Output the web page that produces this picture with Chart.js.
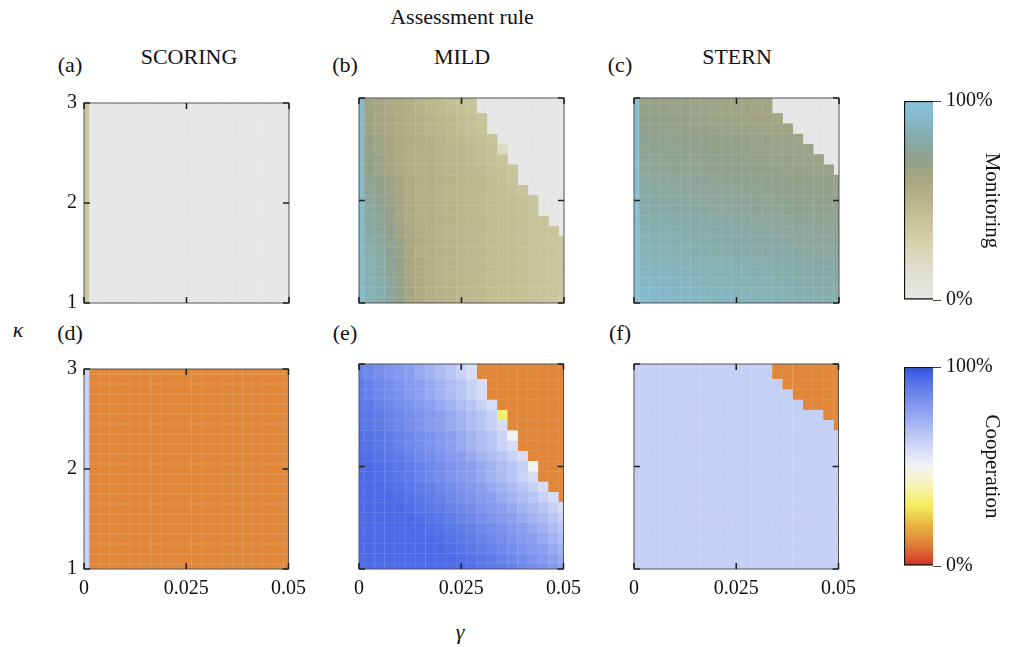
<!DOCTYPE html>
<html>
<head>
<meta charset="utf-8">
<script src="https://cdn.jsdelivr.net/npm/chart.js@4.4.1/dist/chart.umd.min.js"></script>
<style>
  body { margin: 0; background: #fff; }
  #fig { position: relative; width: 1011px; height: 647px; font-family: 'Liberation Serif', 'Times New Roman', serif; color: #111; }
  #fig canvas { position: absolute; }
  .t { position: absolute; transform: translate(-50%, -50%); white-space: nowrap; font-size: 22px; line-height: 1; }
  .it { font-style: italic; }
</style>
</head>
<body>
<div id="fig">
  <div class="t" style="left:462px;top:17px">Assessment rule</div>
  <div class="t" style="left:70px;top:65px">(a)</div>
  <div class="t" style="left:189px;top:57px">SCORING</div>
  <div class="t" style="left:345px;top:65px">(b)</div>
  <div class="t" style="left:462px;top:57px">MILD</div>
  <div class="t" style="left:620px;top:65px">(c)</div>
  <div class="t" style="left:737px;top:57px">STERN</div>
  <div class="t" style="left:70px;top:333px">(d)</div>
  <div class="t" style="left:345px;top:333px">(e)</div>
  <div class="t" style="left:620px;top:333px">(f)</div>
  <div class="t it" style="left:18px;top:330px">κ</div>
  <div class="t it" style="left:460px;top:632px">γ</div>

  <canvas id="pa" width="270" height="254" style="left:44px;top:84px"></canvas>
  <canvas id="pb" width="270" height="254" style="left:319px;top:84px"></canvas>
  <canvas id="pc" width="270" height="254" style="left:594px;top:84px"></canvas>
  <canvas id="pd" width="270" height="254" style="left:44px;top:350px"></canvas>
  <canvas id="pe" width="270" height="254" style="left:319px;top:350px"></canvas>
  <canvas id="pf" width="270" height="254" style="left:594px;top:350px"></canvas>
  <canvas id="cbMon" width="111" height="233" style="left:900px;top:84px"></canvas>
  <canvas id="cbCoop" width="111" height="233" style="left:900px;top:350px"></canvas>
</div>
<script>
// grid of the sweep: gamma along x, kappa along y (rows listed top to bottom)
const gamma = [0, 0.0025, 0.005, 0.0075, 0.01, 0.0125, 0.015, 0.0175, 0.02, 0.0225, 0.025,
               0.0275, 0.03, 0.0325, 0.035, 0.0375, 0.04, 0.0425, 0.045, 0.0475, 0.05];
const kappa = [3, 2.9, 2.8, 2.7, 2.6, 2.5, 2.4, 2.3, 2.2, 2.1, 2, 1.9, 1.8, 1.7, 1.6, 1.5, 1.4, 1.3, 1.2, 1.1, 1];

const xTicks = [0, 0.025, 0.05];
const xTickLabels = ['0', '0.025', '0.05'];
const yTicks = [1, 2, 3];
const yTickLabels = ['1', '2', '3'];
const cbTicks = [0, 100];

// monitoring level (%), one row per kappa value
const scoringMon = [
  [40, 0,0,0,0,0,0,0,0,0,0,0,0,0,0,0,0,0,0,0,0],
  [40, 0,0,0,0,0,0,0,0,0,0,0,0,0,0,0,0,0,0,0,0],
  [40, 0,0,0,0,0,0,0,0,0,0,0,0,0,0,0,0,0,0,0,0],
  [40, 0,0,0,0,0,0,0,0,0,0,0,0,0,0,0,0,0,0,0,0],
  [40, 0,0,0,0,0,0,0,0,0,0,0,0,0,0,0,0,0,0,0,0],
  [40, 0,0,0,0,0,0,0,0,0,0,0,0,0,0,0,0,0,0,0,0],
  [40, 0,0,0,0,0,0,0,0,0,0,0,0,0,0,0,0,0,0,0,0],
  [40, 0,0,0,0,0,0,0,0,0,0,0,0,0,0,0,0,0,0,0,0],
  [40, 0,0,0,0,0,0,0,0,0,0,0,0,0,0,0,0,0,0,0,0],
  [40, 0,0,0,0,0,0,0,0,0,0,0,0,0,0,0,0,0,0,0,0],
  [40, 0,0,0,0,0,0,0,0,0,0,0,0,0,0,0,0,0,0,0,0],
  [40, 0,0,0,0,0,0,0,0,0,0,0,0,0,0,0,0,0,0,0,0],
  [40, 0,0,0,0,0,0,0,0,0,0,0,0,0,0,0,0,0,0,0,0],
  [40, 0,0,0,0,0,0,0,0,0,0,0,0,0,0,0,0,0,0,0,0],
  [40, 0,0,0,0,0,0,0,0,0,0,0,0,0,0,0,0,0,0,0,0],
  [40, 0,0,0,0,0,0,0,0,0,0,0,0,0,0,0,0,0,0,0,0],
  [40, 0,0,0,0,0,0,0,0,0,0,0,0,0,0,0,0,0,0,0,0],
  [40, 0,0,0,0,0,0,0,0,0,0,0,0,0,0,0,0,0,0,0,0],
  [40, 0,0,0,0,0,0,0,0,0,0,0,0,0,0,0,0,0,0,0,0],
  [40, 0,0,0,0,0,0,0,0,0,0,0,0,0,0,0,0,0,0,0,0],
  [40, 0,0,0,0,0,0,0,0,0,0,0,0,0,0,0,0,0,0,0,0]
];

const mildMon = [
  [92, 64,61,58,56,55, 50,48,46,44,42,40, 0,0,0,0,0,0,0,0,0],
  [92, 64,61,58,56,55, 50,48,46,44,42,40, 0,0,0,0,0,0,0,0,0],
  [92, 65,62,59,56,55, 52,50,48,46,44,42,40, 0,0,0,0,0,0,0,0],
  [92, 65,62,59,56,55, 52,50,48,46,44,42,40, 0,0,0,0,0,0,0,0],
  [92, 68,64,60,57,55, 54,52,50,48,46,44,42,40, 0,0,0,0,0,0,0],
  [92, 68,64,60,57,55, 54,53,51,50,48,46,44,42, 20, 0,0,0,0,0,0],
  [92, 70,66,61,57,55, 54,53,51,50,48,46,44,42,40, 0,0,0,0,0,0],
  [92, 70,66,61,57,55, 54,53,51,50,48,47,46,44,42,40, 0,0,0,0,0],
  [92, 74,70,65,60,56, 54,53,51,50,48,47,46,44,42,40, 0,0,0,0,0],
  [92, 74,70,65,60,56, 54,53,51,50,48,47,46,45,44,42,40, 0,0,0,0],
  [92, 76,72,67,61,57, 54,53,51,50,48,47,46,45,44,43,42,40, 0,0,0],
  [92, 78,74,69,62,57, 54,53,51,50,48,47,46,45,44,43,42,40, 0,0,0],
  [92, 78,74,69,62,57, 54,53,51,50,48,47,46,45,44,43,42,41,40, 0,0],
  [92, 80,76,71,64,58, 55,53,51,50,48,47,46,45,44,43,42,41,40,39, 0],
  [92, 82,78,73,66,59, 55,53,51,50,48,47,46,45,44,43,42,41,40,39,38],
  [92, 82,78,73,66,59, 55,53,51,50,48,47,46,45,44,43,42,41,40,39,38],
  [92, 84,80,75,68,60, 56,53,51,50,48,47,46,45,44,43,42,41,40,39,38],
  [92, 84,80,75,68,60, 56,53,51,50,48,47,46,45,44,43,42,41,40,39,38],
  [92, 85,82,77,69,61, 56,53,51,50,48,47,46,45,44,43,42,41,40,39,38],
  [92, 85,82,77,69,61, 56,53,51,50,48,47,46,45,44,43,42,41,40,39,38],
  [92, 85,82,77,69,61, 56,53,51,50,48,47,46,45,44,43,42,41,40,39,38]
];

const sternMon = [
  [96, 68,67,67,66,66,65,65,64,64,63,63,62,62, 0,0,0,0,0,0,0],
  [96, 69,68,68,67,67,66,66,65,65,64,64,63,63, 0,0,0,0,0,0,0],
  [96, 70,69,69,68,68,67,67,66,66,65,65,64,64,63, 0,0,0,0,0,0],
  [96, 71,70,70,69,69,68,68,67,67,66,66,65,65,64,64, 0,0,0,0,0],
  [96, 73,72,72,71,71,70,70,69,69,68,68,67,67,66,66,65, 0,0,0,0],
  [96, 74,73,73,72,72,71,71,70,70,69,69,68,68,67,67,66,66, 0,0,0],
  [96, 75,74,74,73,73,72,72,71,71,70,70,69,69,68,68,67,67,66, 0,0],
  [96, 76,75,75,74,74,73,73,72,72,71,71,70,70,69,69,68,68,67,67, 0],
  [96, 78,77,77,76,76,75,75,74,74,73,73,72,72,71,71,70,70,69,69,68],
  [96, 79,78,78,77,77,76,76,75,75,74,74,73,73,72,72,71,71,70,70,69],
  [96, 80,79,79,78,78,77,77,76,76,75,75,74,74,73,73,72,72,71,71,70],
  [96, 81,80,80,79,79,78,78,77,77,76,76,75,75,74,74,73,73,72,72,71],
  [96, 83,82,82,81,81,80,80,79,79,78,78,77,77,76,76,75,75,74,74,73],
  [96, 84,83,83,82,82,81,81,80,80,79,79,78,78,77,77,76,76,75,75,74],
  [96, 85,84,84,83,83,82,82,81,81,80,80,79,79,78,78,77,77,76,76,75],
  [96, 86,85,85,84,84,83,83,82,82,81,81,80,80,79,79,78,78,77,77,76],
  [96, 88,87,87,86,86,85,85,84,84,83,83,82,82,81,81,80,80,79,79,78],
  [96, 89,88,88,87,87,86,86,85,85,84,84,83,83,82,82,81,81,80,80,79],
  [96, 90,89,89,88,88,87,87,86,86,85,85,84,84,83,83,82,82,81,81,80],
  [96, 91,90,90,89,89,88,88,87,87,86,86,85,85,84,84,83,83,82,82,81],
  [96, 92,91,91,90,90,89,89,88,88,87,87,86,86,85,85,84,84,83,83,82]
];

// cooperation level (%)
const scoringCoop = [
  [62, 12,12,12,12,12,12,12,12,12,12,12,12,12,12,12,12,12,12,12,12],
  [62, 12,12,12,12,12,12,12,12,12,12,12,12,12,12,12,12,12,12,12,12],
  [62, 12,12,12,12,12,12,12,12,12,12,12,12,12,12,12,12,12,12,12,12],
  [62, 12,12,12,12,12,12,12,12,12,12,12,12,12,12,12,12,12,12,12,12],
  [62, 12,12,12,12,12,12,12,12,12,12,12,12,12,12,12,12,12,12,12,12],
  [62, 12,12,12,12,12,12,12,12,12,12,12,12,12,12,12,12,12,12,12,12],
  [62, 12,12,12,12,12,12,12,12,12,12,12,12,12,12,12,12,12,12,12,12],
  [62, 12,12,12,12,12,12,12,12,12,12,12,12,12,12,12,12,12,12,12,12],
  [62, 12,12,12,12,12,12,12,12,12,12,12,12,12,12,12,12,12,12,12,12],
  [62, 12,12,12,12,12,12,12,12,12,12,12,12,12,12,12,12,12,12,12,12],
  [62, 12,12,12,12,12,12,12,12,12,12,12,12,12,12,12,12,12,12,12,12],
  [62, 12,12,12,12,12,12,12,12,12,12,12,12,12,12,12,12,12,12,12,12],
  [62, 12,12,12,12,12,12,12,12,12,12,12,12,12,12,12,12,12,12,12,12],
  [62, 12,12,12,12,12,12,12,12,12,12,12,12,12,12,12,12,12,12,12,12],
  [62, 12,12,12,12,12,12,12,12,12,12,12,12,12,12,12,12,12,12,12,12],
  [62, 12,12,12,12,12,12,12,12,12,12,12,12,12,12,12,12,12,12,12,12],
  [62, 12,12,12,12,12,12,12,12,12,12,12,12,12,12,12,12,12,12,12,12],
  [62, 12,12,12,12,12,12,12,12,12,12,12,12,12,12,12,12,12,12,12,12],
  [62, 12,12,12,12,12,12,12,12,12,12,12,12,12,12,12,12,12,12,12,12],
  [62, 12,12,12,12,12,12,12,12,12,12,12,12,12,12,12,12,12,12,12,12],
  [62, 12,12,12,12,12,12,12,12,12,12,12,12,12,12,12,12,12,12,12,12]
];

const mildCoop = [
  [88,86,84,82,80,78,75,72,69,66,62,58, 12,12,12,12,12,12,12,12,12],
  [88,86,84,82,80,78,75,72,69,66,62,58, 12,12,12,12,12,12,12,12,12],
  [90,88,86,84,82,80,78,75,72,69,66,62,58, 12,12,12,12,12,12,12,12],
  [90,88,86,84,82,80,78,75,72,69,66,62,58, 12,12,12,12,12,12,12,12],
  [91,90,88,86,84,82,80,78,75,72,69,66,62,58, 12,12,12,12,12,12,12],
  [92,91,90,88,86,84,82,80,78,75,72,69,66,62, 32, 12,12,12,12,12,12],
  [92,91,90,88,86,84,82,80,78,75,72,69,66,62,58, 12,12,12,12,12,12],
  [93,92,91,90,88,86,84,82,80,78,75,72,69,66,62, 50, 12,12,12,12,12],
  [93,92,91,90,88,86,84,82,80,78,75,72,69,66,62,58, 12,12,12,12,12],
  [94,93,92,91,90,88,86,84,82,80,78,75,72,69,66,62,58, 12,12,12,12],
  [94,94,93,92,91,90,88,86,84,82,80,78,75,72,69,66,62, 50, 12,12,12],
  [94,94,93,92,91,90,88,86,84,82,80,78,75,72,69,66,62,58, 12,12,12],
  [94,94,94,93,92,91,90,88,86,84,82,80,78,75,72,69,66,62,58, 12,12],
  [94,94,94,94,93,92,91,90,88,86,84,82,80,78,75,72,69,66,62,58, 12],
  [94,94,94,94,94,93,92,91,90,88,86,84,82,80,78,75,72,69,66,62,58],
  [94,94,94,94,94,94,93,92,91,90,88,86,84,82,80,78,75,72,69,66,62],
  [94,94,94,94,94,94,94,93,92,91,90,88,86,84,82,80,78,75,72,69,66],
  [94,94,94,94,94,94,94,94,93,92,91,90,88,86,84,82,80,78,75,72,69],
  [94,94,94,94,94,94,94,94,94,93,92,91,90,88,86,84,82,80,78,75,72],
  [94,94,94,94,94,94,94,94,94,94,93,92,91,90,88,86,84,82,80,78,75],
  [94,94,94,94,94,94,94,94,94,94,94,93,92,91,90,88,86,84,82,80,78]
];

const sternCoop = [
  [63,63,63,63,63,63,63,63,63,63,63,63,63,63, 12,12,12,12,12,12,12],
  [63,63,63,63,63,63,63,63,63,63,63,63,63,63, 12,12,12,12,12,12,12],
  [63,63,63,63,63,63,63,63,63,63,63,63,63,63,63, 12,12,12,12,12,12],
  [63,63,63,63,63,63,63,63,63,63,63,63,63,63,63,63, 12,12,12,12,12],
  [63,63,63,63,63,63,63,63,63,63,63,63,63,63,63,63,63, 12,12,12,12],
  [63,63,63,63,63,63,63,63,63,63,63,63,63,63,63,63,63,63,63, 12,12],
  [63,63,63,63,63,63,63,63,63,63,63,63,63,63,63,63,63,63,63,63, 12],
  [63,63,63,63,63,63,63,63,63,63,63,63,63,63,63,63,63,63,63,63,63],
  [63,63,63,63,63,63,63,63,63,63,63,63,63,63,63,63,63,63,63,63,63],
  [63,63,63,63,63,63,63,63,63,63,63,63,63,63,63,63,63,63,63,63,63],
  [63,63,63,63,63,63,63,63,63,63,63,63,63,63,63,63,63,63,63,63,63],
  [63,63,63,63,63,63,63,63,63,63,63,63,63,63,63,63,63,63,63,63,63],
  [63,63,63,63,63,63,63,63,63,63,63,63,63,63,63,63,63,63,63,63,63],
  [63,63,63,63,63,63,63,63,63,63,63,63,63,63,63,63,63,63,63,63,63],
  [63,63,63,63,63,63,63,63,63,63,63,63,63,63,63,63,63,63,63,63,63],
  [63,63,63,63,63,63,63,63,63,63,63,63,63,63,63,63,63,63,63,63,63],
  [63,63,63,63,63,63,63,63,63,63,63,63,63,63,63,63,63,63,63,63,63],
  [63,63,63,63,63,63,63,63,63,63,63,63,63,63,63,63,63,63,63,63,63],
  [63,63,63,63,63,63,63,63,63,63,63,63,63,63,63,63,63,63,63,63,63],
  [63,63,63,63,63,63,63,63,63,63,63,63,63,63,63,63,63,63,63,63,63],
  [63,63,63,63,63,63,63,63,63,63,63,63,63,63,63,63,63,63,63,63,63]
];

// colour maps: [percent, colour]
const monStops = [
  [0, '#e6e6e6'], [10, '#e2e2d6'], [20, '#dcdbc2'], [30, '#d3d0aa'], [40, '#c7c49a'],
  [50, '#b7b48a'], [60, '#a8a782'], [70, '#93a08a'], [80, '#87aaa6'], [90, '#85b8c6'], [100, '#88c6d8']
];
const coopStops = [
  [0, '#d42a24'], [5, '#d9562e'], [12, '#e0873a'], [20, '#eab140'], [30, '#f4ec5c'], [40, '#f6f4b4'],
  [50, '#f2f2f4'], [60, '#d0d8f6'], [70, '#a9b9f2'], [80, '#8599ee'], [90, '#5f7ce9'], [100, '#3152e4']
];

const FONT = "'Liberation Serif', 'Times New Roman', serif";

function hexToRgb(h) {
  return [parseInt(h.slice(1, 3), 16), parseInt(h.slice(3, 5), 16), parseInt(h.slice(5, 7), 16)];
}

function colorAt(stops, v) {
  for (let i = 1; i < stops.length; i++) {
    if (v <= stops[i][0]) {
      const a = hexToRgb(stops[i - 1][1]), b = hexToRgb(stops[i][1]);
      const t = (v - stops[i - 1][0]) / (stops[i][0] - stops[i - 1][0]);
      return a.map((x, n) => Math.round(x + (b[n] - x) * t));
    }
  }
  return hexToRgb(stops[stops.length - 1][1]);
}

const rgb = (c) => 'rgb(' + c[0] + ',' + c[1] + ',' + c[2] + ')';
const lighten = (c, f) => c.map((x) => Math.round(x + (255 - x) * f));

// box + inward ticks on all four sides
const framePlugin = {
  id: 'frame',
  afterDatasetsDraw(chart) {
    const { ctx, chartArea: a, scales: { x, y } } = chart;
    ctx.save();
    ctx.strokeStyle = '#555';
    ctx.lineWidth = 1;
    ctx.strokeRect(a.left, a.top, a.width, a.height);
    ctx.strokeStyle = '#222';
    ctx.lineWidth = 1.6;
    ctx.beginPath();
    x.ticks.forEach((t) => {
      const px = x.getPixelForValue(t.value);
      ctx.moveTo(px, a.bottom); ctx.lineTo(px, a.bottom - 6);
      ctx.moveTo(px, a.top); ctx.lineTo(px, a.top + 6);
    });
    y.ticks.forEach((t) => {
      const py = y.getPixelForValue(t.value);
      ctx.moveTo(a.left, py); ctx.lineTo(a.left + 6, py);
      ctx.moveTo(a.right, py); ctx.lineTo(a.right - 6, py);
    });
    ctx.stroke();
    ctx.restore();
  }
};

function heatmap(id, values, stops, showX, showY) {
  const half = (gamma[1] - gamma[0]) / 2;
  const datasets = gamma.map((g, k) => {
    const cols = kappa.map((kap, j) => colorAt(stops, values[j][k]));
    return {
      data: kappa.map((kap) => ({ y: kap, x: [g - half, g + half] })),
      backgroundColor: cols.map(rgb),
      borderColor: cols.map((c) => rgb(lighten(c, 0.18))),
      borderWidth: 0.5,
      borderSkipped: false,
      clip: 0
    };
  });

  return new Chart(document.getElementById(id), {
    type: 'bar',
    data: { datasets },
    plugins: [framePlugin],
    options: {
      responsive: false,
      animation: false,
      events: [],
      indexAxis: 'y',
      datasets: { bar: { grouped: false, barPercentage: 1, categoryPercentage: 1 } },
      layout: { padding: { top: 14, right: 25, left: 0, bottom: 0 } },
      plugins: { legend: { display: false }, tooltip: { enabled: false } },
      scales: {
        x: {
          type: 'linear', min: 0, max: 0.05, offset: false,
          afterBuildTicks: (s) => { s.ticks = xTicks.map((v) => ({ value: v })); },
          afterFit: (s) => { s.height = 35; },
          grid: { display: false, drawTicks: false },
          border: { display: false },
          ticks: {
            display: showX, padding: 8, maxRotation: 0, autoSkip: false, color: '#111',
            font: { family: FONT, size: 20 },
            callback: (v, i) => xTickLabels[i]
          }
        },
        y: {
          type: 'linear', min: 1, max: 3, offset: false,
          afterBuildTicks: (s) => { s.ticks = yTicks.map((v) => ({ value: v })); },
          afterFit: (s) => { s.width = 40; },
          grid: { display: false, drawTicks: false },
          border: { display: false },
          ticks: {
            display: showY, padding: 7, autoSkip: false, color: '#111',
            font: { family: FONT, size: 20 },
            callback: (v, i) => yTickLabels[i]
          }
        }
      }
    }
  });
}

function colorbar(id, stops, title) {
  return new Chart(document.getElementById(id), {
    type: 'bar',
    data: {
      labels: [''],
      datasets: [{
        data: [[0, 100]],
        backgroundColor: (c) => {
          const area = c.chart.chartArea;
          if (!area) return null;
          const g = c.chart.ctx.createLinearGradient(0, area.bottom, 0, area.top);
          stops.forEach((s) => g.addColorStop(s[0] / 100, s[1]));
          return g;
        },
        borderColor: '#111',
        borderWidth: { left: 1.5, top: 1.5, bottom: 1.5, right: 0 },
        borderSkipped: false,
        barPercentage: 1,
        categoryPercentage: 1
      }]
    },
    options: {
      responsive: false,
      animation: false,
      events: [],
      layout: { padding: { left: 4, top: 14, bottom: 14, right: 0 } },
      plugins: { legend: { display: false }, tooltip: { enabled: false } },
      scales: {
        x: { display: false },
        y: {
          position: 'right', min: 0, max: 100,
          afterBuildTicks: (s) => { s.ticks = cbTicks.map((v) => ({ value: v })); },
          afterFit: (s) => { s.width = 78; },
          grid: { drawOnChartArea: false, drawTicks: true, tickLength: 8, color: '#444', lineWidth: 1 },
          border: { display: false },
          ticks: {
            padding: 5, color: '#111',
            font: { family: FONT, size: 20 },
            callback: (v) => v + '%'
          },
          title: {
            display: true, text: title, color: '#111',
            font: { family: FONT, size: 21 },
            padding: { top: 7, bottom: 0 }
          }
        }
      }
    }
  });
}

heatmap('pa', scoringMon, monStops, false, true);
heatmap('pb', mildMon, monStops, false, false);
heatmap('pc', sternMon, monStops, false, false);
heatmap('pd', scoringCoop, coopStops, true, true);
heatmap('pe', mildCoop, coopStops, true, false);
heatmap('pf', sternCoop, coopStops, true, false);
colorbar('cbMon', monStops, 'Monitoring');
colorbar('cbCoop', coopStops, 'Cooperation');
</script>
</body>
</html>
